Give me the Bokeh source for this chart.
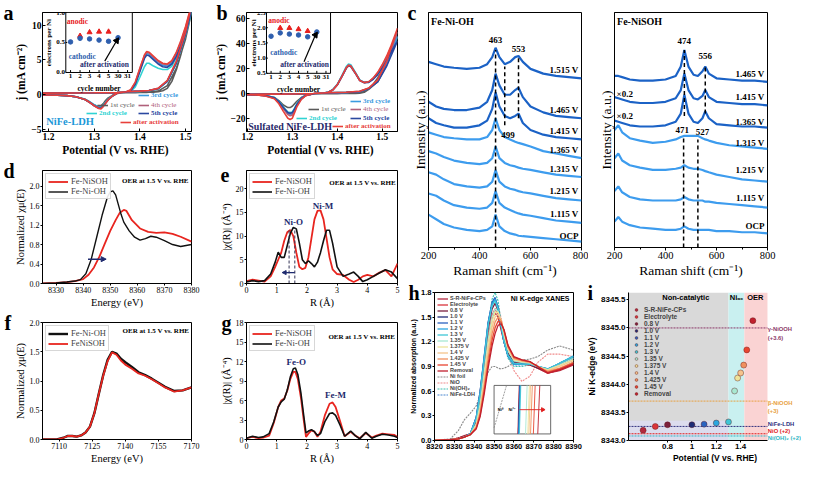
import math
from bokeh.plotting import figure
from bokeh.models import (Range1d, Legend, LegendItem, BoxAnnotation,
                          FixedTicker, PrintfTickFormatter, Arrow, NormalHead)
from bokeh.layouts import row, column
from bokeh.embed import file_html
from bokeh.resources import INLINE
from bokeh.core.properties import value

SERIF = "Liberation Serif"
SANS = "Liberation Sans"

# ---------------- (a) NiFe-LDH CV, j (mA cm-2) ----------------
a_fwd_v = [1.187, 1.25, 1.30, 1.35, 1.37, 1.38, 1.39, 1.40, 1.41, 1.415, 1.42, 1.43, 1.44, 1.45, 1.46, 1.47, 1.48, 1.49, 1.50, 1.51, 1.52]
a_fwd_1st = [0.18, 0.2, 0.22, 0.25, 0.27, 0.28, 0.29, 0.3, 0.31, 0.32, 0.33, 0.36, 0.42, 0.55, 0.9, 1.9, 3.6, 5.8, 8.3, 11.0, 13.8]
a_fwd_2nd = [0.22, 0.24, 0.26, 0.3, 0.33, 0.45, 1.1, 2.5, 4.0, 4.5, 4.5, 4.1, 3.8, 3.6, 3.6, 4.1, 5.3, 6.9, 8.9, 11.2, 13.6]
a_fwd_3rd = [0.22, 0.24, 0.26, 0.3, 0.36, 0.6, 1.6, 3.5, 5.4, 5.9, 5.8, 5.2, 4.6, 4.2, 4.1, 4.6, 5.8, 7.4, 9.4, 11.7, 14.2]
a_fwd_4th = [0.22, 0.24, 0.26, 0.3, 0.38, 0.65, 1.7, 3.7, 5.6, 6.1, 6.0, 5.4, 4.8, 4.4, 4.3, 4.8, 6.0, 7.6, 9.6, 12.0, 14.5]
a_fwd_5th = [0.22, 0.24, 0.26, 0.3, 0.35, 0.55, 1.5, 3.3, 5.2, 5.7, 5.6, 5.0, 4.4, 4.0, 3.9, 4.4, 5.5, 7.1, 9.1, 11.4, 13.9]
a_fwd_act = [0.22, 0.24, 0.26, 0.3, 0.4, 0.7, 1.8, 3.8, 5.7, 6.2, 6.1, 5.5, 4.9, 4.5, 4.4, 4.9, 6.1, 7.8, 9.8, 12.2, 14.8]
a_rev_v = [1.52, 1.50, 1.48, 1.46, 1.44, 1.42, 1.40, 1.37, 1.35, 1.34, 1.33, 1.325, 1.32, 1.315, 1.31, 1.30, 1.29, 1.28, 1.26, 1.24, 1.22, 1.187]
a_rev_1st = [13.8, 8.0, 3.8, 1.3, 0.5, 0.4, 0.35, 0.3, 0.15, -0.1, -0.5, -0.85, -1.3, -1.6, -1.75, -1.5, -1.1, -0.7, -0.3, -0.15, -0.1, -0.05]
a_rev_2nd = [13.6, 8.6, 4.5, 1.9, 0.8, 0.55, 0.45, 0.4, 0.2, -0.15, -0.7, -1.1, -1.5, -1.8, -1.75, -1.45, -1.0, -0.65, -0.3, -0.15, -0.1, -0.05]
a_rev_3rd = [14.2, 8.8, 4.6, 1.9, 0.85, 0.6, 0.5, 0.4, 0.2, -0.2, -0.75, -1.2, -1.6, -1.85, -1.8, -1.5, -1.05, -0.7, -0.3, -0.15, -0.1, -0.05]
a_rev_4th = [14.5, 8.9, 4.7, 2.0, 0.9, 0.6, 0.5, 0.42, 0.2, -0.2, -0.8, -1.2, -1.65, -1.95, -1.9, -1.55, -1.1, -0.7, -0.3, -0.15, -0.1, -0.05]
a_rev_5th = [13.9, 8.7, 4.6, 1.9, 0.85, 0.6, 0.5, 0.4, 0.2, -0.2, -0.8, -1.2, -1.65, -1.95, -1.95, -1.6, -1.1, -0.7, -0.3, -0.15, -0.1, -0.05]
a_rev_act = [14.8, 9.0, 4.8, 2.0, 0.9, 0.6, 0.5, 0.42, 0.2, -0.2, -0.8, -1.25, -1.7, -2.05, -2.0, -1.6, -1.1, -0.7, -0.3, -0.15, -0.1, -0.05]

# ---------------- (b) Sulfated NiFe-LDH CV ----------------
b_fwd_v = [1.198, 1.25, 1.30, 1.35, 1.37, 1.38, 1.39, 1.40, 1.41, 1.42, 1.425, 1.43, 1.44, 1.45, 1.46, 1.47, 1.48, 1.49, 1.50, 1.51, 1.52, 1.534]
b_fwd_1st = [-0.5, -0.3, -0.2, 0, 0, 0, 0, 0.1, 0.2, 0.2, 0.2, 0.2, 0.3, 0.5, 1.2, 3.5, 7.5, 12.5, 18.5, 25.5, 33.5, 45.0]
b_fwd_2nd = [-0.5, -0.3, -0.2, 0.2, 0.6, 1.3, 3.3, 7.5, 14.2, 21.5, 23.5, 23.0, 17.2, 11.0, 9.0, 9.4, 12.0, 16.0, 21.5, 28.0, 35.5, 45.0]
b_fwd_3rd = [-0.5, -0.3, -0.2, 0.2, 0.6, 1.2, 3.1, 7.2, 13.8, 20.8, 22.8, 22.3, 16.8, 10.8, 9.0, 9.4, 12.0, 16.2, 21.8, 28.5, 36.0, 46.0]
b_fwd_4th = [-0.5, -0.3, -0.2, 0.2, 0.6, 1.2, 3.0, 7.1, 13.6, 20.6, 22.5, 22.0, 16.6, 10.6, 8.9, 9.4, 12.2, 16.6, 22.4, 29.2, 37.5, 49.0]
b_fwd_5th = [-0.5, -0.3, -0.2, 0.2, 0.6, 1.1, 2.9, 6.9, 13.3, 20.2, 22.0, 21.6, 16.3, 10.4, 8.7, 9.0, 11.5, 15.2, 20.4, 26.5, 33.5, 42.0]
b_fwd_act = [-0.5, -0.3, -0.2, 0.2, 0.6, 1.2, 3.0, 7.0, 13.5, 20.5, 22.5, 22.0, 16.5, 10.5, 8.8, 9.5, 12.5, 17.0, 23.0, 30.0, 38.5, 52.0]
b_rev_v = [1.534, 1.51, 1.49, 1.47, 1.45, 1.42, 1.38, 1.35, 1.33, 1.32, 1.31, 1.305, 1.30, 1.295, 1.29, 1.28, 1.27, 1.26, 1.24, 1.22, 1.198]
b_rev_1st = [45, 23, 9.5, 3.5, 1.2, 0.6, 0.4, 0, -1.2, -3.0, -6.0, -8.0, -10.0, -11.0, -11.0, -9.0, -5.5, -3.0, -1.4, -0.8, -0.6]
b_rev_2nd = [45, 23.5, 10, 4.2, 1.8, 1.1, 0.7, 0.2, -1.2, -3.6, -8.0, -11.5, -14.5, -15, -14.5, -10.5, -6, -3, -1.4, -0.8, -0.6]
b_rev_3rd = [46, 24, 10, 4.2, 1.8, 1.1, 0.7, 0.2, -1.3, -4.0, -9.0, -12.5, -16, -16.5, -15.5, -11.5, -6.5, -3.3, -1.5, -0.9, -0.7]
b_rev_4th = [49, 25, 10.5, 4.3, 1.9, 1.1, 0.7, 0.2, -1.4, -4.2, -9.5, -13.5, -17, -17.5, -16.5, -12, -7, -3.5, -1.6, -0.9, -0.7]
b_rev_5th = [42, 22, 9.5, 4.0, 1.7, 1.0, 0.6, 0.2, -1.3, -3.8, -8.5, -12, -15, -15.5, -15, -11, -6.3, -3.2, -1.5, -0.9, -0.7]
b_rev_act = [52, 26, 11, 4.5, 2.0, 1.2, 0.8, 0.3, -1.5, -4.5, -10.5, -15, -19.5, -20.5, -19.5, -14, -8, -4, -1.8, -1.0, -0.8]

cycle_names = ["1st cycle", "2nd cycle", "3rd cycle", "4th cycle", "5th cycle", "after activation"]

# insets: electrons per Ni vs cycle number
inset_cycles = ["1", "2", "3", "4", "5", "30", "31"]
anodic_cycles = ["2", "3", "4", "5"]
cathodic_cycles = ["1", "2", "3", "4", "5", "30"]
a_anodic = [0.61, 0.67, 0.68, 0.68]
a_cathodic = [0.51, 0.57, 0.56, 0.54, 0.52, 0.58]
b_anodic = [1.99, 1.99, 1.95, 1.89]
b_cathodic = [1.72, 1.83, 1.79, 1.76, 1.70, 1.86]

# ---------------- (c) Raman ----------------
c1_shift = [200, 230, 260, 300, 350, 400, 430, 450, 463, 478, 499, 520, 540, 553, 570, 600, 650, 700, 750, 800]
c1_names = ["1.515 V", "1.465 V", "1.415 V", "1.365 V", "1.315 V", "1.215 V", "1.115 V", "OCP"]
c1_series = [
    [79, 78, 77, 76.5, 76, 76.5, 78, 81, 85, 81, 78, 79, 81, 81.5, 79, 76, 74, 73, 72.5, 72],
    [62, 60, 59, 58.5, 58.5, 59.5, 62, 67, 74, 69, 65, 65, 67, 68, 64, 60, 57.5, 56, 55.5, 55],
    [55, 53, 52, 51, 51, 52, 54, 59, 66, 60, 56, 55, 56, 57, 53, 50, 48, 47, 46.5, 46],
    [49, 48, 47, 46.5, 46, 46, 47, 50, 55, 50, 47, 46, 45, 44.5, 44, 43, 41, 40, 39, 38],
    [41, 40, 38.5, 37, 36, 35.5, 36, 38, 43, 38, 36, 35, 34.5, 34, 33.5, 33, 32, 31, 30.5, 30],
    [32, 31, 29, 27, 26, 25.5, 26, 28, 33, 28, 26, 25, 24.5, 24, 23.5, 23, 22, 21, 20.5, 20],
    [23, 22, 20, 18, 17, 16.5, 17, 19, 24, 19, 17, 16, 15, 14.5, 14, 13.5, 12.5, 11.5, 11, 10.5],
    [14, 12, 10, 8.5, 7.5, 7, 7.5, 9, 14, 9, 7, 6, 5.5, 5, 4.8, 4.5, 4, 3.5, 3, 2.5],
]
c2_shift = [200, 215, 230, 260, 300, 350, 400, 440, 460, 474, 490, 510, 527, 545, 556, 570, 600, 650, 700, 750, 800]
c2_names = ["1.465 V", "1.415 V", "1.365 V", "1.315 V", "1.215 V", "1.115 V", "OCP"]
c2_series = [
    [73, 73, 72.5, 71.5, 71, 71, 71.5, 73, 77, 84, 77, 73.5, 73, 75, 77, 74, 72, 71.5, 71, 71, 70.5],
    [64, 63.5, 63, 62, 61.5, 61.5, 62, 63.5, 67, 74, 67, 63.5, 63, 64.5, 67, 64, 62, 61.5, 61, 61, 60.5],
    [54, 53.5, 53, 52, 51.5, 51.5, 52, 53.5, 57, 65, 57, 53.5, 53, 55, 58, 55, 52.5, 52, 51.5, 51.5, 51],
    [50, 52, 49, 46.5, 45.5, 44.5, 45, 46, 47, 47.5, 47.5, 47.5, 47.5, 46.5, 46, 45.5, 44.5, 43.5, 43, 42.5, 42],
    [38, 40, 37, 35, 34, 33, 33, 33.5, 34, 35, 34, 33.5, 33.5, 33, 32.5, 32, 31, 30, 29, 28.5, 28],
    [24, 26, 23.5, 21.5, 20.5, 20, 20, 20, 20.5, 21.5, 20.5, 20, 20, 20, 19.5, 19.5, 19, 18.5, 18, 17.5, 17],
    [11, 13, 11, 9.5, 8.5, 8, 7.5, 7.5, 8, 9, 8, 7.5, 7.5, 7.5, 7.5, 7.5, 7, 7, 6.5, 6.5, 6],
]
c1_peaks = [463, 499, 553]
c2_peaks_high = [474, 556]
c2_peaks_low = [471, 527]

# ---------------- (d) Ni K-edge XANES ----------------
d_energy_oh = [8325, 8330, 8334, 8337, 8339, 8341, 8343, 8345, 8347, 8349, 8350, 8351, 8352, 8353, 8354, 8355, 8357, 8359, 8361, 8363, 8365, 8367, 8370, 8373, 8376, 8380]
d_mu_oh = [0, 0.01, 0.03, 0.05, 0.08, 0.2, 0.5, 0.95, 1.4, 1.78, 1.88, 1.9, 1.82, 1.62, 1.42, 1.26, 1.08, 0.95, 0.89, 0.92, 0.97, 0.95, 0.88, 0.8, 0.76, 0.8]
d_energy_soh = [8325, 8330, 8334, 8337, 8340, 8342, 8344, 8346, 8348, 8350, 8352, 8353.5, 8355, 8356, 8358, 8361, 8364, 8367, 8370, 8373, 8376, 8380]
d_mu_soh = [0, 0.01, 0.03, 0.05, 0.09, 0.18, 0.33, 0.55, 0.82, 1.08, 1.3, 1.45, 1.51, 1.49, 1.3, 1.13, 1.06, 1.04, 1.05, 1.02, 0.96, 0.86]

# ---------------- (e) Ni FT-EXAFS ----------------
e_r = [0, 0.2, 0.4, 0.6, 0.8, 0.95, 1.05, 1.15, 1.25, 1.35, 1.45, 1.55, 1.65, 1.75, 1.85, 1.95, 2.05, 2.15, 2.25, 2.35, 2.45, 2.55, 2.65, 2.75, 2.85, 3.0, 3.2, 3.4, 3.55, 3.7, 3.85, 4.0, 4.2, 4.4, 4.6, 4.8, 5.0]
e_soh = [0.5, 0.8, 0.6, 0.4, 1.5, 3.5, 5.0, 6.5, 9.0, 10.8, 11.3, 10.0, 6.5, 3.5, 3.0, 3.3, 5.5, 9.5, 13.5, 15.3, 15.4, 13.5, 9.5, 5.5, 3.0, 2.0, 1.8, 0.8, 0.3, 0.8, 1.5, 1.8, 1.5, 2.3, 2.8, 1.5, 4.2]
e_oh = [0.3, 0.6, 0.4, 0.6, 2.0, 4.5, 6.6, 5.5, 5.5, 8.0, 10.5, 11.8, 11.5, 8.5, 5.0, 4.2, 4.8, 4.2, 3.5, 4.5, 6.5, 9.0, 11.2, 11.2, 8.5, 3.5, 1.5, 2.0, 2.4, 1.5, 0.4, 0.8, 1.5, 2.2, 2.9, 2.4, 1.0]

# ---------------- (f) Fe K-edge XANES ----------------
f_energy = [7102, 7109, 7112, 7114, 7116, 7118, 7120, 7122, 7124, 7126, 7128, 7130, 7132, 7134, 7136, 7138, 7140, 7143, 7146, 7149, 7152, 7155, 7158, 7162, 7166, 7170]
f_oh = [0, 0.0, 0.03, 0.06, 0.06, 0.05, 0.07, 0.12, 0.22, 0.45, 0.78, 1.1, 1.36, 1.5, 1.47, 1.38, 1.32, 1.24, 1.15, 1.1, 1.04, 0.97, 0.9, 0.83, 0.84, 0.89]
f_soh = [0, 0.0, 0.03, 0.06, 0.06, 0.05, 0.07, 0.12, 0.22, 0.45, 0.78, 1.09, 1.34, 1.49, 1.45, 1.35, 1.28, 1.21, 1.13, 1.09, 1.03, 0.96, 0.89, 0.82, 0.84, 0.89]

# ---------------- (g) Fe FT-EXAFS ----------------
g_r = [0, 0.2, 0.4, 0.55, 0.75, 0.9, 1.05, 1.15, 1.25, 1.35, 1.45, 1.55, 1.62, 1.7, 1.8, 1.9, 1.97, 2.05, 2.15, 2.25, 2.35, 2.45, 2.6, 2.75, 2.85, 2.95, 3.1, 3.25, 3.45, 3.6, 3.75, 3.95, 4.15, 4.3, 4.5, 4.7, 4.9, 5.0]
g_soh = [0.2, 0.4, 0.2, 0.3, 0.6, 2.5, 5.0, 6.0, 6.3, 7.5, 9.3, 10.4, 10.4, 9.3, 6.5, 2.8, 0.4, 0.9, 1.4, 1.2, 0.4, 1.2, 3.8, 5.5, 5.7, 5.0, 2.8, 0.5, 1.2, 0.6, 0.2, 1.0, 0.3, 0.6, 0.9, 0.8, 0.7, 0.4]
g_oh = [0.2, 0.5, 0.3, 0.4, 0.9, 2.7, 5.0, 5.8, 6.2, 7.6, 9.6, 10.9, 11.0, 10.0, 7.2, 3.5, 1.0, 1.3, 1.5, 1.2, 0.6, 0.9, 2.8, 4.0, 4.1, 3.7, 2.2, 0.5, 1.3, 0.6, 0.1, 1.1, 0.2, 0.5, 0.8, 0.7, 0.5, 0.3]

# ---------------- (h) operando Ni K-edge XANES ----------------
h_energy = [8320, 8328, 8332, 8335, 8338, 8341, 8343, 8345, 8347, 8349, 8350.5, 8352, 8353.5, 8355, 8357, 8360, 8364, 8368, 8372, 8377, 8383, 8390]
h_names = ["S-R-NiFe-CPs", "Electrolyte", "0.8 V", "1.0 V", "1.1 V", "1.2 V", "1.3 V", "1.35 V", "1.375 V", "1.4 V", "1.425 V", "1.45 V", "Removal"]
h_series = [
    [0, 0.01, 0.03, 0.06, 0.08, 0.2, 0.45, 0.8, 1.2, 1.48, 1.55, 1.5, 1.35, 1.2, 1.05, 0.96, 0.94, 0.93, 0.88, 0.82, 0.85, 0.92],
    [0, 0.01, 0.03, 0.05, 0.08, 0.22, 0.5, 0.85, 1.25, 1.52, 1.6, 1.53, 1.37, 1.2, 1.05, 0.95, 0.93, 0.92, 0.88, 0.82, 0.86, 0.93],
    [0, 0.01, 0.03, 0.05, 0.08, 0.25, 0.55, 0.95, 1.35, 1.6, 1.67, 1.58, 1.4, 1.22, 1.06, 0.95, 0.93, 0.92, 0.88, 0.83, 0.87, 0.95],
    [0, 0.01, 0.02, 0.04, 0.08, 0.28, 0.6, 1.0, 1.42, 1.66, 1.72, 1.6, 1.4, 1.2, 1.04, 0.94, 0.93, 0.93, 0.9, 0.86, 0.92, 1.0],
    [0, 0.01, 0.02, 0.04, 0.08, 0.28, 0.6, 1.02, 1.44, 1.68, 1.74, 1.62, 1.4, 1.2, 1.03, 0.93, 0.93, 0.93, 0.9, 0.87, 0.94, 1.02],
    [0, 0.01, 0.02, 0.04, 0.08, 0.27, 0.58, 1.0, 1.42, 1.66, 1.72, 1.6, 1.4, 1.2, 1.03, 0.93, 0.93, 0.93, 0.9, 0.87, 0.94, 1.03],
    [0, 0.01, 0.02, 0.04, 0.08, 0.26, 0.56, 0.97, 1.4, 1.64, 1.7, 1.6, 1.41, 1.21, 1.04, 0.94, 0.93, 0.93, 0.9, 0.87, 0.94, 1.02],
    [0, 0.01, 0.02, 0.04, 0.07, 0.2, 0.45, 0.82, 1.22, 1.5, 1.6, 1.57, 1.45, 1.28, 1.1, 0.97, 0.95, 0.94, 0.9, 0.86, 0.92, 1.0],
    [0, 0.01, 0.02, 0.04, 0.07, 0.18, 0.4, 0.75, 1.15, 1.45, 1.56, 1.56, 1.47, 1.3, 1.12, 0.98, 0.96, 0.95, 0.9, 0.86, 0.91, 0.98],
    [0, 0.01, 0.02, 0.04, 0.07, 0.17, 0.37, 0.7, 1.08, 1.38, 1.5, 1.54, 1.47, 1.32, 1.13, 0.99, 0.97, 0.95, 0.9, 0.85, 0.9, 0.97],
    [0, 0.01, 0.02, 0.04, 0.07, 0.16, 0.34, 0.65, 1.0, 1.3, 1.44, 1.5, 1.46, 1.33, 1.14, 1.0, 0.97, 0.95, 0.9, 0.84, 0.88, 0.95],
    [0, 0.01, 0.02, 0.04, 0.07, 0.15, 0.31, 0.6, 0.93, 1.22, 1.37, 1.45, 1.44, 1.34, 1.15, 1.01, 0.98, 0.96, 0.9, 0.83, 0.87, 0.94],
    [0, 0.01, 0.02, 0.04, 0.07, 0.14, 0.29, 0.56, 0.88, 1.15, 1.3, 1.4, 1.42, 1.35, 1.16, 1.02, 0.98, 0.96, 0.9, 0.82, 0.86, 0.93],
]
h_ref_names = ["Ni foil", "NiO", "Ni(OH)\u2082", "NiFe-LDH"]
h_ref_series = [
    [0, 0.02, 0.12, 0.25, 0.33, 0.42, 0.55, 0.7, 0.83, 0.9, 0.9, 0.88, 0.87, 0.88, 0.9, 0.95, 0.98, 0.99, 1.02, 1.1, 1.15, 1.1],
    [0, 0.01, 0.02, 0.04, 0.07, 0.18, 0.4, 0.75, 1.15, 1.45, 1.6, 1.62, 1.5, 1.3, 1.05, 0.85, 0.72, 0.78, 0.95, 1.05, 1.05, 1.02],
    [0, 0.01, 0.02, 0.04, 0.07, 0.2, 0.45, 0.9, 1.4, 1.72, 1.8, 1.7, 1.45, 1.2, 1.0, 0.9, 0.9, 0.92, 0.9, 0.86, 0.92, 1.0],
    [0, 0.01, 0.02, 0.04, 0.07, 0.22, 0.5, 0.92, 1.38, 1.65, 1.72, 1.62, 1.42, 1.2, 1.02, 0.92, 0.92, 0.93, 0.9, 0.87, 0.93, 1.01],
]
# inset: edge crossing segments (energy at 0.44 and at 0.56 normalized absorption)
h_edge_lo = [8343.10, 8343.14, 8343.16, 8343.14, 8343.16, 8343.19, 8343.24, 8343.78, 8343.98, 8344.08, 8344.22, 8344.47, 8344.86]
h_edge_hi = [8343.22, 8343.26, 8343.28, 8343.26, 8343.28, 8343.31, 8343.36, 8343.92, 8344.12, 8344.22, 8344.38, 8344.63, 8345.04]

# ---------------- (i) Ni K-edge position vs potential ----------------
i_potential = [0.6, 0.7, 0.8, 1.0, 1.1, 1.2, 1.3, 1.35, 1.375, 1.4, 1.425, 1.45, 1.5]
i_edge = [8343.18, 8343.25, 8343.28, 8343.28, 8343.29, 8343.31, 8343.33, 8343.88, 8344.11, 8344.2, 8344.34, 8344.61, 8345.13]
i_ref_edge = [8345.0, 8343.7, 8343.25, 8343.12, 8343.08]
i_ref_text = ["\u03b3-NiOOH", "(+3.6)", "\u03b2-NiOOH", "(+3)", "NiFe-LDH", "NiO (+2)", "Ni(OH)\u2082 (+2)"]
i_regions = ["Non-catalytic", "Ni\u2092\u2093", "OER"]
i_region_bounds = [1.3, 1.43]
i_xlim = [0.48, 1.62]

# ---------------- styles ----------------
cyc_colors = ["#5a5a5a", "#2fd3d3", "#3a9be0", "#b0607a", "#2a48a0", "#e8403a"]
h_colors = ["#b3283e", "#d9343c", "#7b1f3e", "#1f2c78", "#2a62c0", "#2aa6e0", "#3fc6d6",
            "#a8e8d2", "#efe39a", "#f5c48c", "#f0905e", "#e84530", "#c0202e"]
h_ref_colors = ["#8a8a8a", "#f08a8a", "#3cbfb0", "#4a86d0"]
i_ref_colors = ["#8b3868", "#e8a040", "#30307e", "#e02020", "#2fb5c5"]
i_ref_text_colors = ["#8b3868", "#8b3868", "#e8a040", "#e8a040", "#30307e", "#e02020", "#2fb5c5"]
DARK = "#1b62c6"
LIGHT = "#3d9cee"
NAVY = "#1e2a6e"
RED = "#e8251f"
BLK = "#111111"


def mkfig(w, h, xr, yr, bl, br, bt, bb, outline=True):
    p = figure(width=w, height=h, x_range=Range1d(*xr), y_range=Range1d(*yr),
               output_backend="svg", toolbar_location=None, tools="",
               min_border_left=bl, min_border_right=br,
               min_border_top=bt, min_border_bottom=bb)
    p.xgrid.visible = False
    p.ygrid.visible = False
    p.outline_line_color = "black" if outline else None
    p.outline_line_alpha = 1.0
    p.background_fill_color = "white"
    p.border_fill_color = "white"
    return p


def style_axes(p, font, tsize, lsize, tbold=False, lbold=False, tin=0, tout=3, mout=0):
    for ax in list(p.xaxis) + list(p.yaxis):
        ax.major_label_text_font = font
        ax.major_label_text_font_size = tsize
        ax.major_label_text_font_style = "bold" if tbold else "normal"
        ax.major_label_text_color = "black"
        ax.axis_label_text_font = font
        ax.axis_label_text_font_size = lsize
        ax.axis_label_text_font_style = "bold" if lbold else "normal"
        ax.axis_label_text_color = "black"
        ax.major_tick_in = tin
        ax.major_tick_out = tout
        ax.minor_tick_in = 0
        ax.minor_tick_out = mout
        ax.axis_label_standoff = 1
        ax.major_label_standoff = 1
        ax.axis_line_color = "black"
        ax.major_tick_line_color = "black"
        ax.minor_tick_line_color = "black"


def letter(p, t, offset, standoff=-22, size="20px"):
    p.title.text = t
    p.title.align = "left"
    p.title.offset = offset
    p.title.standoff = standoff
    p.title.text_font = SERIF
    p.title.text_font_size = size
    p.title.text_font_style = "bold"
    p.title.text_color = "black"


def item_legend(p, r, text, color, x, y, bold=True):
    lg = Legend(items=[LegendItem(label=text, renderers=[r])], location=(x, y),
                background_fill_alpha=0, border_line_alpha=0, padding=0, margin=0, spacing=0,
                glyph_width=11, glyph_height=8, label_height=8, label_standoff=2,
                label_text_font=SERIF, label_text_font_size="7px",
                label_text_font_style="bold" if bold else "normal", label_text_color=color)
    p.add_layout(lg)


def txt(p, xs, ys, texts, color="black", size="9px", font=SERIF, bold=True,
        align="center", baseline="middle", angle=0):
    p.text(x=xs, y=ys, text=texts, text_color=color, text_font=value(font),
           text_font_size=size, text_font_style="bold" if bold else "normal",
           text_align=align, text_baseline=baseline, angle=angle)


def box_legend(p, items, font=SERIF, size="8.5px"):
    lg = Legend(items=[LegendItem(label=l, renderers=[r]) for l, r in items],
                location="top_left", margin=3, padding=2, spacing=0,
                glyph_width=20, glyph_height=9, label_height=9, label_standoff=3,
                label_text_font=font, label_text_font_size=size,
                border_line_color="#b0b0b0", border_line_width=1,
                background_fill_color="white", background_fill_alpha=0.9)
    p.add_layout(lg)


def cv_panel(w, xr, yr, bl, br, fwd_v, fwds, rev_v, revs, yticks, inset_xt, inset_yt, inset_yr,
             inset_yticks, anodic, cathodic, tag_xy, leg_pos, arrow_pts, label_pos):
    p = mkfig(w, 158, xr, yr, bl, br, 12, 26)
    rs = []
    for fy, ry, col in zip(fwds, revs, cyc_colors):
        rs.append(p.line(fwd_v + rev_v, fy + ry, line_color=col, line_width=1.6))
    p.xaxis.ticker = FixedTicker(ticks=[1.2, 1.3, 1.4, 1.5])
    p.yaxis.ticker = FixedTicker(ticks=yticks)
    p.xaxis.axis_label = "Potential  (V vs. RHE)"
    p.yaxis.axis_label = "j (mA cm\u207b\u00b2)"
    style_axes(p, SERIF, "9.5px", "11.5px", tbold=True, lbold=True, tin=3, tout=0)
    for r, name, col, (lx, ly) in zip(rs, cycle_names, cyc_colors, leg_pos):
        item_legend(p, r, name, col, lx, ly, bold=(name not in ("1st cycle", "4th cycle")))
    # inset
    ins = p.subplot(x_source=Range1d(0.5, 7.5), y_source=Range1d(*inset_yr),
                    x_target=Range1d(*inset_xt), y_target=Range1d(*inset_yt))
    lo, hi = inset_yr
    ins.quad(left=[0.5], right=[7.5], bottom=[lo], top=[hi], fill_color="white",
             line_color="black", line_width=1)
    pos = [inset_cycles.index(c) + 1 for c in inset_cycles]
    span = hi - lo
    ins.segment(x0=pos, y0=[lo] * 7, x1=pos, y1=[lo + 0.04 * span] * 7, line_color="black")
    ins.segment(x0=[0.5] * len(inset_yticks), y0=inset_yticks, x1=[0.65] * len(inset_yticks),
                y1=inset_yticks, line_color="black")
    ins.text(x=pos, y=[lo - 0.03 * span] * 7, text=inset_cycles, text_font=value(SERIF),
             text_font_size="7px", text_font_style="bold", text_align="center", text_baseline="top")
    ins.text(x=[0.42] * len(inset_yticks), y=inset_yticks, text=["%.1f" % v for v in inset_yticks],
             text_font=value(SERIF), text_font_size="7px", text_font_style="bold",
             text_align="right", text_baseline="middle")
    ins.text(x=[4.0], y=[lo - 0.2 * span], text=["cycle number"], text_font=value(SERIF),
             text_font_size="7.5px", text_font_style="bold", text_align="center", text_baseline="top")
    ins.text(x=[label_pos], y=[lo + 0.5 * span], text=["electrons per Ni"], text_font=value(SERIF),
             text_font_size="7px", text_font_style="bold", text_align="center",
             text_baseline="middle", angle=math.pi / 2)
    ins.scatter([inset_cycles.index(c) + 1 for c in anodic_cycles], anodic, marker="triangle",
                size=5, fill_color="#e8201e", line_color="#e8201e")
    ins.scatter([inset_cycles.index(c) + 1 for c in cathodic_cycles], cathodic, marker="circle",
                size=4.5, fill_color="#2f5fae", line_color="#2f5fae")
    (ax0, ay0), (ax1, ay1) = arrow_pts
    ins.segment(x0=[ax0], y0=[ay0], x1=[ax1], y1=[ay1], line_color="black", line_width=1.2)
    ins.scatter([ax1], [ay1], marker="triangle", size=6, angle=-0.6, fill_color="black",
                line_color="black")
    (tx1, ty1), (tx2, ty2), (tx3, ty3) = tag_xy
    ins.text(x=[tx1], y=[ty1], text=["anodic"], text_color="#e8201e", text_font=value(SERIF),
             text_font_size="7.5px", text_font_style="bold", text_baseline="middle")
    ins.text(x=[tx2], y=[ty2], text=["cathodic"], text_color="#2f5fae", text_font=value(SERIF),
             text_font_size="7.5px", text_font_style="bold", text_baseline="middle")
    ins.text(x=[tx3], y=[ty3], text=["after activation"], text_color=NAVY, text_font=value(SERIF),
             text_font_size="7.5px", text_font_style="bold", text_baseline="middle")
    return p


# ---------------- panel a ----------------
pa = cv_panel(211, (1.187, 1.513), (-5.3, 11.8), 42, 20,
              a_fwd_v, [a_fwd_1st, a_fwd_2nd, a_fwd_3rd, a_fwd_4th, a_fwd_5th, a_fwd_act],
              a_rev_v, [a_rev_1st, a_rev_2nd, a_rev_3rd, a_rev_4th, a_rev_5th, a_rev_act],
              [-5, 0, 5, 10], (1.238, 1.3835), (3.18, 11.8), (0.0, 1.0), [0.0, 0.5, 1.0],
              a_anodic, a_cathodic,
              [(0.6, 0.85), (0.8, 0.27), (2.0, 0.13)],
              [(55, 22), (44, 14), (96, 32), (96, 22), (96, 14), (78, 5)],
              [(4.6, 0.19), (5.85, 0.53)], -1.3)
txt(pa, [1.195], [-3.9], ["NiFe-LDH"], color="#1b98d8", size="10.5px", align="left")
letter(pa, "a", -39)

# ---------------- panel b ----------------
pb = cv_panel(196, (1.198, 1.534), (-30, 64.5), 31, 10,
              b_fwd_v, [b_fwd_1st, b_fwd_2nd, b_fwd_3rd, b_fwd_4th, b_fwd_5th, b_fwd_act],
              b_rev_v, [b_rev_1st, b_rev_2nd, b_rev_3rd, b_rev_4th, b_rev_5th, b_rev_act],
              [-20, 0, 20, 40, 60], (1.2425, 1.385), (16.2, 64.5), (0.5, 2.5),
              [0.5, 1.0, 1.5, 2.0, 2.5], b_anodic, b_cathodic,
              [(0.7, 2.25), (0.9, 1.2), (2.0, 0.8)],
              [(62, 18), (50, 9.5), (104, 26), (104, 18), (104, 9.5), (86, 1)],
              [(4.6, 0.88), (5.85, 1.76)], -0.9)
txt(pb, [1.202], [-26], ["Sulfated NiFe-LDH"], color="#2a2a6a", size="10px", align="left")
letter(pb, "b", -30)


# ---------------- panel c ----------------
def raman(w, bl, br, shift, series, cols, title):
    p = mkfig(w, 280, (200, 800), (0, 100), bl, br, 12, 33)
    for ys, col in zip(series, cols):
        p.line(shift, ys, line_color=col, line_width=2.2)
    p.xaxis.ticker = FixedTicker(ticks=[200, 400, 600, 800], minor_ticks=[300, 500, 700])
    p.yaxis.ticker = FixedTicker(ticks=[])
    p.xaxis.axis_label = "Raman shift (cm\u207b\u00b9)"
    p.yaxis.axis_label = "Intensity (a.u.)"
    style_axes(p, SERIF, "10.5px", "13.5px", tout=3, mout=2)
    p.yaxis.major_tick_out = 0
    p.yaxis.major_label_text_font_size = "0px"
    txt(p, [210], [96], [title], size="10px", align="left")
    return p


pc1 = raman(181, 21, 7, c1_shift, c1_series, [DARK] * 3 + [LIGHT] * 5, "Fe-Ni-OH")
pc1.segment(x0=c1_peaks, y0=[0, 52, 55], x1=c1_peaks, y1=[84, 77, 81], line_color="black",
            line_width=1.5, line_dash="4 3")
txt(pc1, [788] * 8, [75.7, 58.4, 49.4, 41.6, 33.3, 24, 14.4, 4.9], c1_names, size="9px", align="right")
txt(pc1, [463, 553, 512], [88.5, 84.5, 48], ["463", "553", "499"], size="9px")
letter(pc1, "c", -21)

pc2 = raman(213, 26, 34, c2_shift, c2_series, [DARK] * 3 + [LIGHT] * 4, "Fe-NiSOH")
pc2.segment(x0=c2_peaks_high, y0=[56, 57], x1=c2_peaks_high, y1=[84, 77], line_color="black",
            line_width=1.5, line_dash="4 3")
pc2.segment(x0=c2_peaks_low, y0=[0, 0], x1=c2_peaks_low, y1=[47, 46], line_color="black",
            line_width=1.5, line_dash="4 3")
txt(pc2, [788] * 7, [74, 64, 53.5, 44.5, 33, 21, 9], c2_names, size="9px", align="right")
txt(pc2, [474, 556, 466, 545], [88, 81.5, 50, 49], ["474", "556", "471", "527"], size="9px")
txt(pc2, [208, 208], [65.5, 56], ["\u00d70.2", "\u00d70.2"], size="9px", align="left")

# ---------------- panel d ----------------
pd = mkfig(211, 152, (8325, 8380), (0, 2.32), 42, 11, 12, 25)
rd1 = pd.line(d_energy_soh, d_mu_soh, line_color=RED, line_width=1.8)
rd2 = pd.line(d_energy_oh, d_mu_oh, line_color=BLK, line_width=1.4)
pd.xaxis.ticker = FixedTicker(ticks=[8330, 8340, 8350, 8360, 8370, 8380])
pd.yaxis.ticker = FixedTicker(ticks=[0.0, 0.4, 0.8, 1.2, 1.6, 2.0])
pd.yaxis.formatter = PrintfTickFormatter(format="%.1f")
pd.xaxis.axis_label = "Energy (eV)"
pd.yaxis.axis_label = "Normalized \u03c7\u03bc(E)"
style_axes(pd, SERIF, "8px", "10.5px", tout=2)
box_legend(pd, [("Fe-NiSOH", rd1), ("Fe-Ni-OH", rd2)])
txt(pd, [8379], [2.11], ["OER at 1.5 V vs. RHE"], size="7px", align="right")
pd.add_layout(Arrow(end=NormalHead(size=5, fill_color=NAVY, line_color=NAVY), x_start=8341.8,
                    y_start=0.5, x_end=8348.5, y_end=0.5, line_color=NAVY, line_width=1.5))
letter(pd, "d", -39)

# ---------------- panel e ----------------
pe = mkfig(196, 152, (0, 5), (0, 23.8), 27, 10, 12, 25)
re1 = pe.line(e_r, e_soh, line_color=RED, line_width=1.8)
re2 = pe.line(e_r, e_oh, line_color=BLK, line_width=1.6)
pe.xaxis.ticker = FixedTicker(ticks=[0, 1, 2, 3, 4, 5])
pe.yaxis.ticker = FixedTicker(ticks=[0, 5, 10, 15, 20])
pe.xaxis.axis_label = "R (\u00c5)"
pe.yaxis.axis_label = "|\u03c7(R)| (\u00c5\u207b\u2074)"
style_axes(pe, SERIF, "8px", "10.5px", tout=2)
box_legend(pe, [("Fe-NiSOH", re1), ("Fe-Ni-OH", re2)])
txt(pe, [4.95], [21.2], ["OER at 1.5 V vs. RHE"], size="7px", align="right")
pe.segment(x0=[1.41, 1.6], y0=[0, 0], x1=[1.41, 1.6], y1=[11.3, 11.8], line_color="#333355",
           line_width=1, line_dash="3 2")
pe.add_layout(Arrow(end=NormalHead(size=4, fill_color=NAVY, line_color=NAVY), x_start=1.6,
                    y_start=2.3, x_end=1.18, y_end=2.3, line_color=NAVY, line_width=1.3))
txt(pe, [1.56, 2.53], [12.9, 16.4], ["Ni-O", "Ni-M"], color=NAVY, size="9px")
letter(pe, "e", -26)

# ---------------- panel f ----------------
pf = mkfig(211, 156, (7102.5, 7170), (0, 2.0), 41, 11, 12, 25)
rf1 = pf.line(f_energy, f_oh, line_color=BLK, line_width=2.4)
rf2 = pf.line(f_energy, f_soh, line_color=RED, line_width=1.8)
pf.xaxis.ticker = FixedTicker(ticks=[7110, 7125, 7140, 7155, 7170])
pf.yaxis.ticker = FixedTicker(ticks=[0.0, 0.5, 1.0, 1.5, 2.0])
pf.yaxis.formatter = PrintfTickFormatter(format="%.1f")
pf.xaxis.axis_label = "Energy (eV)"
pf.yaxis.axis_label = "Normalized \u03c7\u03bc(E)"
style_axes(pf, SERIF, "8px", "10.5px", tout=2)
box_legend(pf, [("Fe-Ni-OH", rf1), ("FeNiSOH", rf2)])
txt(pf, [7169], [1.86], ["OER at 1.5 V vs. RHE"], size="7px", align="right")
letter(pf, "f", -38)

# ---------------- panel g ----------------
pg = mkfig(196, 156, (0, 5), (0, 18), 26, 10, 12, 27)
rg1 = pg.line(g_r, g_soh, line_color=RED, line_width=1.8)
rg2 = pg.line(g_r, g_oh, line_color=BLK, line_width=1.6)
pg.xaxis.ticker = FixedTicker(ticks=[0, 1, 2, 3, 4, 5])
pg.yaxis.ticker = FixedTicker(ticks=[0, 3, 6, 9, 12, 15, 18])
pg.xaxis.axis_label = "R (\u00c5)"
pg.yaxis.axis_label = "|\u03c7(R)| (\u00c5\u207b\u2074)"
style_axes(pg, SERIF, "8px", "10.5px", tout=2)
box_legend(pg, [("Fe-NiSOH", rg1), ("Fe-Ni-OH", rg2)])
txt(pg, [4.92], [15.8], ["OER at 1.5 V vs. RHE"], size="7px", align="right")
txt(pg, [1.65, 2.95], [12.0, 6.8], ["Fe-O", "Fe-M"], color=NAVY, size="9px")
letter(pg, "g", -25)

# ---------------- panel h ----------------
ph = mkfig(176, 186, (8320, 8390), (0, 1.8), 27, 10, 12, 25)
h_items = []
for name, ys, col in zip(h_ref_names, h_ref_series, h_ref_colors):
    h_items.append((name, ph.line(h_energy, ys, line_color=col, line_width=1.1, line_dash="2 1")))
h_main = []
for name, ys, col in zip(h_names, h_series, h_colors):
    h_main.append((name, ph.line(h_energy, ys, line_color=col, line_width=1.3)))
ph.xaxis.ticker = FixedTicker(ticks=[8320, 8330, 8340, 8350, 8360, 8370, 8380, 8390])
ph.yaxis.ticker = FixedTicker(ticks=[0.0, 0.3, 0.6, 0.9, 1.2, 1.5, 1.8])
ph.yaxis.formatter = PrintfTickFormatter(format="%.1f")
ph.yaxis.axis_label = "Normalized absorption (a.u.)"
style_axes(ph, SANS, "7.5px", "7px", tbold=True, lbold=True, tout=2)
lh = Legend(items=[LegendItem(label=l, renderers=[r]) for l, r in h_main + h_items],
            location="top_left", margin=2, padding=1, spacing=0, label_height=5, glyph_height=5,
            glyph_width=11, label_standoff=2, label_text_font=SANS, label_text_font_size="5.5px",
            label_text_font_style="bold", background_fill_alpha=0, border_line_alpha=0)
ph.add_layout(lh)
txt(ph, [8388], [1.73], ["Ni K-edge XANES"], size="7px", font=SANS, align="right")
hin = ph.subplot(x_source=Range1d(8341, 8346), y_source=Range1d(0.44, 0.56),
                 x_target=Range1d(8350, 8378.5), y_target=Range1d(0.08, 0.67))
hin.quad(left=[8341], right=[8346], bottom=[0.44], top=[0.56], fill_color="white",
         line_color="#444444", line_width=0.8)
hin.segment(x0=h_edge_lo, y0=[0.44] * 13, x1=h_edge_hi, y1=[0.56] * 13, line_color=h_colors,
            line_width=0.9)
hin.segment(x0=[8341.0], y0=[0.455], x1=[8342.1], y1=[0.56], line_color="#888888",
            line_width=0.8, line_dash="2 1")
hin.segment(x0=[8343.25], y0=[0.5], x1=[8345.3], y1=[0.5], line_color="#e02020", line_width=0.9)
hin.scatter([8345.3], [0.5], marker="triangle", angle=-math.pi / 2, size=4,
            fill_color="#e02020", line_color="#e02020")
hin.text(x=[8341.55, 8342.55], y=[0.5, 0.5], text=["Ni\u2070", "Ni\u00b2\u207a"],
         text_font=value(SANS), text_font_size="4px", text_font_style="bold",
         text_align="center", text_baseline="middle")
letter(ph, "h", -26)

# ---------------- panel i ----------------
# the frame extends right of the axis end so the reference-state labels lie inside it
pi = mkfig(218, 186, (i_xlim[0], 1.899), (8343.0, 8345.63), 45, 0, 12, 26, outline=False)
pi.add_layout(BoxAnnotation(left=i_xlim[0], right=i_region_bounds[0], fill_color="#d9d9d9",
                            fill_alpha=1, line_alpha=0, level="underlay"))
pi.add_layout(BoxAnnotation(left=i_xlim[0], right=i_region_bounds[0], top=8343.35,
                            fill_color="#dcdcee", fill_alpha=1, line_alpha=0, level="underlay"))
pi.add_layout(BoxAnnotation(left=i_region_bounds[0], right=i_region_bounds[1],
                            fill_color="#c9f0f0", fill_alpha=1, line_alpha=0, level="underlay"))
pi.add_layout(BoxAnnotation(left=i_region_bounds[1], right=i_xlim[1], fill_color="#fad3d3",
                            fill_alpha=1, line_alpha=0, level="underlay"))
pi.segment(x0=[i_xlim[0]] * 5, y0=i_ref_edge, x1=[i_xlim[1]] * 5, y1=i_ref_edge,
           line_color=i_ref_colors, line_width=1, line_dash="2 1")
i_items = []
for name, xv, yv, col in zip(h_names, i_potential, i_edge, h_colors):
    r = pi.scatter([xv], [yv], marker="circle", size=6, fill_color=col, line_color="#5a1010",
                   line_width=0.4)
    i_items.append((name, r))
pi.xaxis.ticker = FixedTicker(ticks=[0.8, 1.0, 1.2, 1.4])
pi.xaxis.bounds = (i_xlim[0], i_xlim[1])
pi.yaxis.ticker = FixedTicker(ticks=[8343.0, 8343.5, 8344.0, 8344.5, 8345.0, 8345.5])
pi.yaxis.formatter = PrintfTickFormatter(format="%.1f")
pi.xaxis.axis_label = "Potential (V vs. RHE)"
pi.yaxis.axis_label = "Ni K-edge (eV)"
style_axes(pi, SANS, "8px", "8.5px", tbold=True, lbold=True, tout=2)
li = Legend(items=[LegendItem(label=l, renderers=[r]) for l, r in i_items],
            location=(3, 42), margin=0, padding=1, spacing=0, label_height=7, glyph_height=7,
            glyph_width=8, label_standoff=4, label_text_font=SANS, label_text_font_size="6.5px",
            label_text_font_style="bold", background_fill_alpha=0, border_line_alpha=0)
pi.add_layout(li)
txt(pi, [0.95, 1.365, 1.52], [8345.55] * 3, i_regions, size="7.5px", font=SANS)
txt(pi, [1.623] * 7, [8344.98, 8344.83, 8343.67, 8343.52, 8343.29, 8343.17, 8343.05],
    i_ref_text, color=i_ref_text_colors, size="5.8px", font=SANS, align="left")
letter(pi, "i", -41)

layout = row(column(pa, pd, pf), column(pb, pe, pg),
             column(row(pc1, pc2), row(ph, pi)))

open("out.html", "w").write(file_html(layout, INLINE, "figure"))
